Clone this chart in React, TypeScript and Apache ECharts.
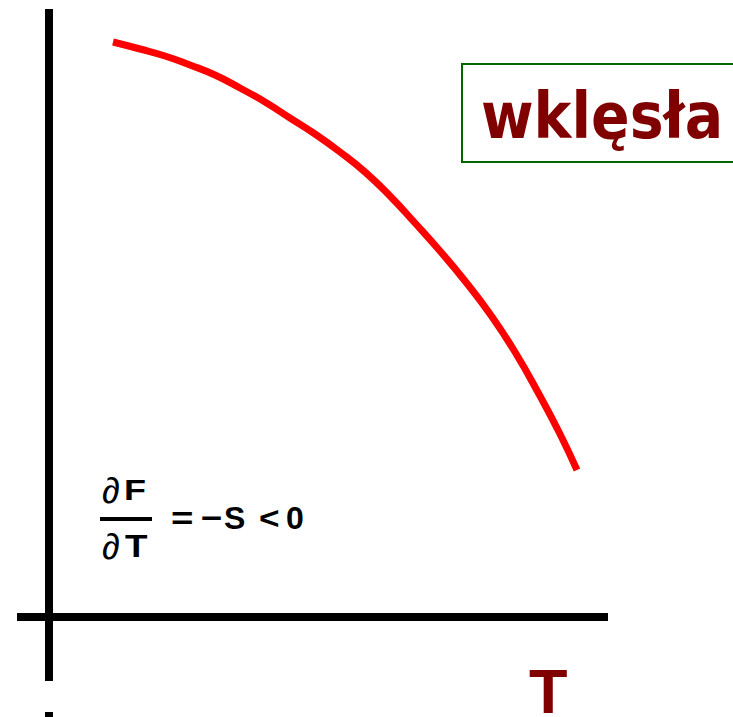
import React, { useEffect, useRef } from "react";
import * as echarts from "echarts";

// Curve (T along x, F along y; axes cross at 0,0)
const curveT = [64, 91, 116, 141, 166, 191, 216, 241, 266, 291, 316, 341, 366, 391, 416, 441, 466, 491, 511, 528];
const curveF = [575, 568, 561, 552, 542, 529, 515, 499, 483, 465, 445, 421, 394, 366, 336, 303, 265, 221, 183, 147];

const tRange = [-32, 559];
const fRange = [-64, 608];

const boxLabel = "wklęsła";
const axisName = "T";
const numerator = ["∂", "F"];
const denominator = ["∂", "T"];
const rhsParts = ["=", "−", "S", "<", "0"];

export default function App() {
  const ref = useRef<HTMLDivElement>(null);
  useEffect(() => {
    document.body.style.margin = "0";
    if (!ref.current) return;
    const chart = echarts.init(ref.current, undefined, { renderer: "svg" });
    const fontBold = (size: number) => `bold ${size}px "Liberation Sans", Arial, sans-serif`;
    const fontIt = (size: number) => `italic ${size}px "Liberation Sans", Arial, sans-serif`;
    const rhsX = [171, 201, 224, 259, 286];
    const rhsSize = [32, 32, 32, 32, 32];
    const rhsScale = [1.2, 1.15, 1.0, 1.1, 1.0];
    chart.setOption({
      animation: false,
      backgroundColor: "#ffffff",
      grid: { left: 17, right: 125, top: 9, bottom: 36, containLabel: false },
      xAxis: {
        type: "value",
        min: tRange[0],
        max: tRange[1],
        axisLine: { show: true, onZero: true, lineStyle: { color: "#000", width: 8, cap: "butt" } },
        axisTick: { show: false },
        axisLabel: { show: false },
        splitLine: { show: false },
      },
      yAxis: {
        type: "value",
        min: fRange[0],
        max: fRange[1],
        axisLine: { show: true, onZero: true, lineStyle: { color: "#000", width: 8, cap: "butt" } },
        axisTick: { show: false },
        axisLabel: { show: false },
        splitLine: { show: false },
      },
      series: [
        {
          type: "line",
          data: curveT.map((t, i) => [t, curveF[i]]),
          smooth: 0.5,
          showSymbol: false,
          symbol: "none",
          lineStyle: { color: "#ff0000", width: 7, cap: "butt" },
        },
      ],
      graphic: [
        {
          type: "rect",
          shape: { x: 462, y: 64, width: 300, height: 98 },
          style: { fill: "#ffffff", stroke: "#006600", lineWidth: 2 },
          z: 10,
        },
        {
          type: "text",
          x: 481,
          y: 116,
          scaleX: 0.89,
          z: 11,
          style: {
            text: boxLabel,
            font: `bold 64px "DejaVu Sans", Verdana, sans-serif`,
            fill: "#800000",
            verticalAlign: "middle",
            align: "left",
          },
        },
        {
          type: "text",
          x: 529,
          y: 691,
          z: 11,
          style: {
            text: axisName,
            font: fontBold(63),
            lineHeight: 48,
            fill: "#800000",
            verticalAlign: "middle",
            align: "left",
          },
        },
        {
          type: "rect",
          shape: { x: 45, y: 712, width: 8, height: 5 },
          style: { fill: "#000000" },
        },
        // fraction
        {
          type: "text",
          x: 102,
          y: 490,
          style: { text: numerator[0], font: fontIt(36), fill: "#000", verticalAlign: "middle" },
        },
        {
          type: "text",
          x: 124,
          y: 490,
          scaleX: 1.2,
          style: { text: numerator[1], font: fontBold(30), fill: "#000", verticalAlign: "middle" },
        },
        {
          type: "rect",
          shape: { x: 100, y: 517, width: 52, height: 4 },
          style: { fill: "#000000" },
        },
        {
          type: "text",
          x: 102,
          y: 546,
          style: { text: denominator[0], font: fontIt(36), fill: "#000", verticalAlign: "middle" },
        },
        {
          type: "text",
          x: 125,
          y: 546,
          scaleX: 1.15,
          style: { text: denominator[1], font: fontBold(32), fill: "#000", verticalAlign: "middle" },
        },
        ...rhsParts.map((p, i) => ({
          type: "text",
          x: rhsX[i],
          y: 518,
          scaleX: rhsScale[i],
          style: { text: p, font: fontBold(rhsSize[i]), fill: "#000", verticalAlign: "middle" },
        })),
      ],
    });
    return () => chart.dispose();
  }, []);
  return <div ref={ref} style={{ width: 733, height: 717 }} />;
}
